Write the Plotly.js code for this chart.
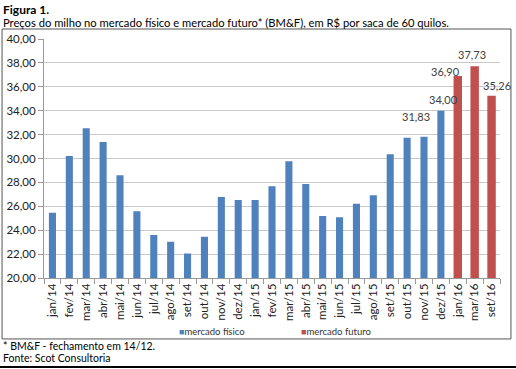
<!DOCTYPE html>
<html><head><meta charset="utf-8">
<script src="https://cdn.plot.ly/plotly-3.0.1.min.js"></script>
<style>body{margin:0;background:#fff}#c{width:516px;height:369px}</style>
</head><body><div id="c"></div>
<script>
const categories = ['jan/14','fev/14','mar/14','abr/14','mai/14','jun/14','jul/14','ago/14','set/14','out/14','nov/14','dez/14','jan/15','fev/15','mar/15','abr/15','mai/15','jun/15','jul/15','ago/15','set/15','out/15','nov/15','dez/15','jan/16','mar/16','set/16'];
const fisico = [25.46,30.20,32.53,31.38,28.60,25.58,23.60,23.04,22.04,23.46,26.78,26.53,26.53,27.67,29.77,27.87,25.19,25.08,26.22,26.92,30.35,31.74,31.83,34.00,null,null,null];
const futuro = [null,null,null,null,null,null,null,null,null,null,null,null,null,null,null,null,null,null,null,null,null,null,null,null,36.90,37.73,35.26];
const fisicoLabels = ['','','','','','','','','','','','','','','','','','','','','','','31,83','34,00','','',''];
const futuroLabels = ['','','','','','','','','','','','','','','','','','','','','','','','','36,90','37,73','35,26'];
const seriesNames = ['mercado físico','mercado futuro'];
const seriesColors = ['#4F81BD','#C0504D'];

const lblFont = {family:'Lato, sans-serif', size:11, color:'#404040'};
const traces = [
  {type:'bar', name:seriesNames[0], x:categories, y:fisico, width:0.42, marker:{color:seriesColors[0]}},
  {type:'bar', name:seriesNames[1], x:categories, y:futuro, width:0.5, marker:{color:seriesColors[1]}}
];

const annotations = [
  {xref:'paper', yref:'paper', x:-0.094, y:1.1255, xanchor:'left', yanchor:'middle', showarrow:false,
   text:'<b>Figura 1.</b>', font:{family:'Lato, sans-serif', size:12, color:'#000'}},
  {xref:'paper', yref:'paper', x:-0.094, y:1.071, xanchor:'left', yanchor:'middle', showarrow:false,
   text:'Preços do milho no mercado físico e mercado futuro* (BM&F), em R$ por saca de 60 quilos.',
   font:{family:'Lato, sans-serif', size:11.2, color:'#000'}},
  {xref:'paper', yref:'paper', x:-0.094, y:-0.285, xanchor:'left', yanchor:'middle', showarrow:false,
   text:'* BM&F - fechamento em 14/12.', font:{family:'Lato, sans-serif', size:10.5, color:'#000'}},
  {xref:'paper', yref:'paper', x:-0.094, y:-0.335, xanchor:'left', yanchor:'middle', showarrow:false,
   text:'Fonte: Scot Consultoria', font:{family:'Lato, sans-serif', size:10.5, color:'#000'}}
];
// value labels (offsets in pixels, as placed in the original)
const labelShifts = {'nov/15':[-8,12], 'dez/15':[3,3], 'jan/16':[-12,-4], 'mar/16':[-3,3], 'set/16':[5,2]};
categories.forEach((c,i)=>{
  const v = fisico[i] !== null ? fisico[i] : futuro[i];
  const t = fisicoLabels[i] || futuroLabels[i];
  if (t) {
    const s = labelShifts[c] || [0,2];
    annotations.push({x:c, y:v, xref:'x', yref:'y', showarrow:false, text:t,
      xanchor:'center', yanchor:'bottom', xshift:s[0], yshift:s[1], font:lblFont});
  }
});
// legend drawn as text
const legX = [0.292, 0.56];
seriesNames.forEach((n,i)=>{
  annotations.push({xref:'paper', yref:'paper', x:legX[i], y:-0.222, xanchor:'left', yanchor:'middle',
    showarrow:false, text:'<span style="color:'+seriesColors[i]+';font-size:9px">■</span>'+n,
    font:{family:'Lato, sans-serif', size:9.5, color:'#333'}});
});

const layout = {
  width:516, height:369, margin:{l:44, r:16, t:39, b:91},
  paper_bgcolor:'#fff', plot_bgcolor:'#fff', barmode:'overlay',
  separators:',.', showlegend:false,
  font:{family:'Lato, sans-serif', size:11, color:'#222'},
  xaxis:{type:'category', range:[-0.5, categories.length-0.5], autorange:false,
         tickangle:-90, ticks:'outside', tickson:'boundaries', ticklen:5,
         tickcolor:'#999', showline:true, linecolor:'#999', linewidth:1, showgrid:false,
         tickfont:{family:'Lato, sans-serif', size:11.5, color:'#222'}},
  yaxis:{range:[20,40], autorange:false, dtick:2, tickformat:'.2f', ticks:'outside', ticklen:5, tickcolor:'#999',
         showline:true, linecolor:'#999', gridcolor:'#c8c8c8', zeroline:false,
         tickfont:{family:'Lato, sans-serif', size:11.5, color:'#222'}},
  shapes:[
    {type:'rect', xref:'paper', yref:'paper', x0:-0.092, x1:1.024, y0:-0.255, y1:1.0418,
     line:{color:'#555', width:1}},
    {type:'line', xref:'paper', yref:'paper', x0:-0.1, x1:1.04, y0:-0.372, y1:-0.372,
     line:{color:'#000', width:2}}
  ],
  annotations:annotations
};
Plotly.newPlot('c', traces, layout, {displayModeBar:false, staticPlot:true});
</script></body></html>
